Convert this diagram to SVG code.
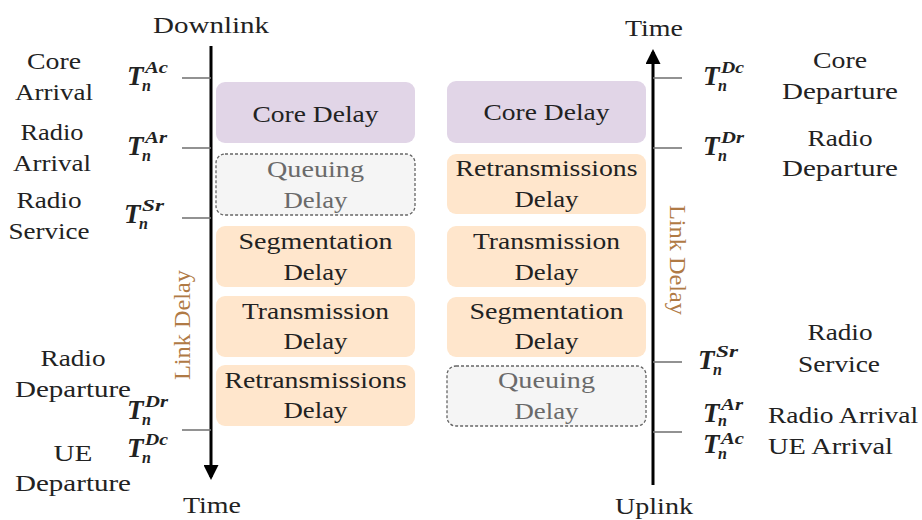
<svg xmlns="http://www.w3.org/2000/svg" width="922" height="520" viewBox="0 0 922 520">
<style>
text{font-family:"Liberation Serif","DejaVu Serif",serif;font-size:24px;fill:#222}
.m{text-anchor:middle}
.T{font-style:italic;font-weight:bold;font-size:27px}
.s{font-style:italic;font-weight:bold;font-size:16px}
.q{fill:#6a6a6a}
.ld{fill:#b07a45}
.core{fill:#e1d5e7}
.org{fill:#ffe6cc}
.que{fill:#f5f5f5;stroke:#666;stroke-width:1.3;stroke-dasharray:3 2}
.tick{stroke:#777;stroke-width:1.6}
.axis{stroke:#000;stroke-width:3}
</style>
<defs>
<marker id="ah" viewBox="0 0 10 10" refX="8" refY="5" markerWidth="5" markerHeight="5" orient="auto" markerUnits="strokeWidth">
<path d="M0,0 L10,5 L0,10 z" fill="#000"/>
</marker>
</defs>

<g id="connectors">
<line class="axis" x1="211" y1="46" x2="211" y2="477" marker-end="url(#ah)"/>
<line class="axis" x1="653" y1="485" x2="653" y2="52" marker-end="url(#ah)"/>
<line class="tick" x1="182" y1="78" x2="211" y2="78"/>
<line class="tick" x1="182" y1="148" x2="211" y2="148"/>
<line class="tick" x1="182" y1="218" x2="211" y2="218"/>
<line class="tick" x1="182" y1="430" x2="211" y2="430"/>
<line class="tick" x1="653" y1="78" x2="682" y2="78"/>
<line class="tick" x1="653" y1="148" x2="682" y2="148"/>
<line class="tick" x1="653" y1="362" x2="682" y2="362"/>
<line class="tick" x1="653" y1="432" x2="682" y2="432"/>
</g>

<g id="axis-labels">
<text class="m" x="211" y="33" textLength="116" lengthAdjust="spacingAndGlyphs">Downlink</text>
<text class="m" x="212" y="513" textLength="58" lengthAdjust="spacingAndGlyphs">Time</text>
<text class="m" x="654" y="36" textLength="58" lengthAdjust="spacingAndGlyphs">Time</text>
<text class="m" x="654" y="514" textLength="78" lengthAdjust="spacingAndGlyphs">Uplink</text>
<text class="m ld" transform="translate(190,325) rotate(-90)" textLength="110" lengthAdjust="spacingAndGlyphs">Link Delay</text>
<text class="m ld" transform="translate(670,260) rotate(90)" textLength="110" lengthAdjust="spacingAndGlyphs">Link Delay</text>
</g>

<g id="left-events">
<text class="m" x="54" y="69" textLength="54" lengthAdjust="spacingAndGlyphs">Core</text>
<text class="m" x="54" y="100" textLength="78" lengthAdjust="spacingAndGlyphs">Arrival</text>
<text class="m" x="52" y="140" textLength="63" lengthAdjust="spacingAndGlyphs">Radio</text>
<text class="m" x="52" y="171" textLength="78" lengthAdjust="spacingAndGlyphs">Arrival</text>
<text class="m" x="49" y="208" textLength="65" lengthAdjust="spacingAndGlyphs">Radio</text>
<text class="m" x="49" y="239" textLength="81" lengthAdjust="spacingAndGlyphs">Service</text>
<text class="m" x="73" y="366" textLength="65" lengthAdjust="spacingAndGlyphs">Radio</text>
<text class="m" x="73" y="397" textLength="116" lengthAdjust="spacingAndGlyphs">Departure</text>
<text class="m" x="73" y="461" textLength="39" lengthAdjust="spacingAndGlyphs">UE</text>
<text class="m" x="73" y="491" textLength="116" lengthAdjust="spacingAndGlyphs">Departure</text>
</g>

<g id="left-times">
<text class="T" x="127" y="85">T</text><text class="s" x="145" y="73" textLength="23" lengthAdjust="spacingAndGlyphs">Ac</text><text class="s" x="142" y="91">n</text>
<text class="T" x="127" y="155">T</text><text class="s" x="145" y="143" textLength="22" lengthAdjust="spacingAndGlyphs">Ar</text><text class="s" x="142" y="161">n</text>
<text class="T" x="124" y="223">T</text><text class="s" x="142" y="211" textLength="22" lengthAdjust="spacingAndGlyphs">Sr</text><text class="s" x="139" y="229">n</text>
<text class="T" x="127" y="419">T</text><text class="s" x="145" y="407" textLength="23" lengthAdjust="spacingAndGlyphs">Dr</text><text class="s" x="142" y="425">n</text>
<text class="T" x="127" y="457">T</text><text class="s" x="145" y="445" textLength="23" lengthAdjust="spacingAndGlyphs">Dc</text><text class="s" x="142" y="463">n</text>
</g>

<g id="right-events">
<text class="m" x="840" y="68" textLength="54" lengthAdjust="spacingAndGlyphs">Core</text>
<text class="m" x="840" y="99" textLength="116" lengthAdjust="spacingAndGlyphs">Departure</text>
<text class="m" x="840" y="146" textLength="65" lengthAdjust="spacingAndGlyphs">Radio</text>
<text class="m" x="840" y="176" textLength="116" lengthAdjust="spacingAndGlyphs">Departure</text>
<text class="m" x="840" y="340" textLength="65" lengthAdjust="spacingAndGlyphs">Radio</text>
<text class="m" x="839" y="372" textLength="82" lengthAdjust="spacingAndGlyphs">Service</text>
<text x="768" y="423" textLength="150" lengthAdjust="spacingAndGlyphs">Radio Arrival</text>
<text x="768" y="454" textLength="125" lengthAdjust="spacingAndGlyphs">UE Arrival</text>
</g>

<g id="right-times">
<text class="T" x="703" y="85">T</text><text class="s" x="721" y="73" textLength="23" lengthAdjust="spacingAndGlyphs">Dc</text><text class="s" x="718" y="91">n</text>
<text class="T" x="703" y="155">T</text><text class="s" x="721" y="143" textLength="23" lengthAdjust="spacingAndGlyphs">Dr</text><text class="s" x="718" y="161">n</text>
<text class="T" x="698" y="369">T</text><text class="s" x="716" y="357" textLength="22" lengthAdjust="spacingAndGlyphs">Sr</text><text class="s" x="713" y="375">n</text>
<text class="T" x="703" y="422">T</text><text class="s" x="721" y="410" textLength="22" lengthAdjust="spacingAndGlyphs">Ar</text><text class="s" x="718" y="426">n</text>
<text class="T" x="703" y="453">T</text><text class="s" x="721" y="444" textLength="23" lengthAdjust="spacingAndGlyphs">Ac</text><text class="s" x="718" y="459">n</text>
</g>

<g id="dl-core">
<rect class="core" x="216" y="82" width="199" height="61" rx="9"/>
<text class="m" x="315.5" y="122" textLength="126" lengthAdjust="spacingAndGlyphs">Core Delay</text>
</g>
<g id="dl-queuing">
<rect class="que" x="216" y="154" width="199" height="61" rx="9"/>
<text class="m q" x="315.5" y="177" textLength="97" lengthAdjust="spacingAndGlyphs">Queuing</text>
<text class="m q" x="315.5" y="208" textLength="64" lengthAdjust="spacingAndGlyphs">Delay</text>
</g>
<g id="dl-segmentation">
<rect class="org" x="216" y="226" width="199" height="61" rx="9"/>
<text class="m" x="315.5" y="249" textLength="154" lengthAdjust="spacingAndGlyphs">Segmentation</text>
<text class="m" x="315.5" y="280" textLength="64" lengthAdjust="spacingAndGlyphs">Delay</text>
</g>
<g id="dl-transmission">
<rect class="org" x="216" y="296" width="199" height="61" rx="9"/>
<text class="m" x="315.5" y="319" textLength="147" lengthAdjust="spacingAndGlyphs">Transmission</text>
<text class="m" x="315.5" y="349" textLength="64" lengthAdjust="spacingAndGlyphs">Delay</text>
</g>
<g id="dl-retransmissions">
<rect class="org" x="216" y="365" width="199" height="61" rx="9"/>
<text class="m" x="315.5" y="388" textLength="182" lengthAdjust="spacingAndGlyphs">Retransmissions</text>
<text class="m" x="315.5" y="418" textLength="64" lengthAdjust="spacingAndGlyphs">Delay</text>
</g>

<g id="ul-core">
<rect class="core" x="447" y="81" width="199" height="62" rx="9"/>
<text class="m" x="546.5" y="120" textLength="126" lengthAdjust="spacingAndGlyphs">Core Delay</text>
</g>
<g id="ul-retransmissions">
<rect class="org" x="447" y="154" width="199" height="60" rx="9"/>
<text class="m" x="546.5" y="176" textLength="182" lengthAdjust="spacingAndGlyphs">Retransmissions</text>
<text class="m" x="546.5" y="207" textLength="64" lengthAdjust="spacingAndGlyphs">Delay</text>
</g>
<g id="ul-transmission">
<rect class="org" x="447" y="226" width="199" height="61" rx="9"/>
<text class="m" x="546.5" y="249" textLength="147" lengthAdjust="spacingAndGlyphs">Transmission</text>
<text class="m" x="546.5" y="280" textLength="64" lengthAdjust="spacingAndGlyphs">Delay</text>
</g>
<g id="ul-segmentation">
<rect class="org" x="447" y="297" width="199" height="60" rx="9"/>
<text class="m" x="546.5" y="319" textLength="154" lengthAdjust="spacingAndGlyphs">Segmentation</text>
<text class="m" x="546.5" y="349" textLength="64" lengthAdjust="spacingAndGlyphs">Delay</text>
</g>
<g id="ul-queuing">
<rect class="que" x="447" y="366" width="199" height="60" rx="9"/>
<text class="m q" x="546.5" y="388" textLength="97" lengthAdjust="spacingAndGlyphs">Queuing</text>
<text class="m q" x="546.5" y="419" textLength="64" lengthAdjust="spacingAndGlyphs">Delay</text>
</g>
</svg>
